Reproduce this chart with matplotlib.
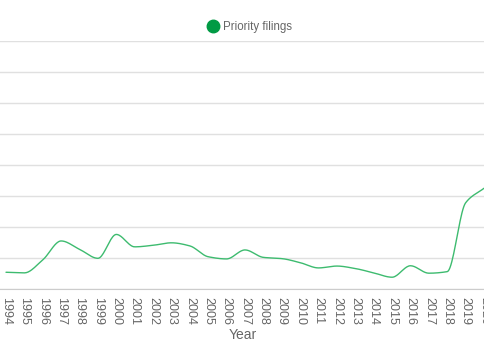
import numpy as np
import matplotlib
matplotlib.use("Agg")
import matplotlib.pyplot as plt
from matplotlib.lines import Line2D

years = list(range(1994, 2021))
filings = [2.7, 2.6, 4.7, 7.75, 6.4, 4.95, 8.8, 6.8, 7.05, 7.45, 6.95, 5.2,
           4.85, 6.3, 5.1, 4.9, 4.25, 3.4, 3.7, 3.3, 2.6, 1.9, 3.75, 2.55,
           2.8, 13.9, 16.25]
series_label = "Priority filings"
x_label = "Year"


def monotone(x, y, n=20):
    x = np.asarray(x, float); y = np.asarray(y, float)
    h = np.diff(x); d = np.diff(y) / h
    m = np.zeros_like(y)
    m[0] = d[0]; m[-1] = d[-1]
    for i in range(1, len(y) - 1):
        if d[i - 1] * d[i] <= 0:
            m[i] = 0
        else:
            m[i] = 3 * (h[i - 1] + h[i]) / ((2 * h[i] + h[i - 1]) / d[i - 1] + (h[i] + 2 * h[i - 1]) / d[i])
    xs, ys = [], []
    for i in range(len(x) - 1):
        t = np.linspace(0, 1, n, endpoint=False)
        h00 = 2 * t**3 - 3 * t**2 + 1; h10 = t**3 - 2 * t**2 + t
        h01 = -2 * t**3 + 3 * t**2; h11 = t**3 - t**2
        xs.append(x[i] + t * h[i])
        ys.append(h00 * y[i] + h10 * h[i] * m[i] + h01 * y[i + 1] + h11 * h[i] * m[i + 1])
    xs.append([x[-1]]); ys.append([y[-1]])
    return np.concatenate(xs), np.concatenate(ys)


plt.rcParams['font.family'] = ['Liberation Sans', 'DejaVu Sans']
fig = plt.figure(figsize=(4.85, 3.6), dpi=100)
ax = fig.add_axes([0, (360 - 289) / 360, 1, (289 - 41) / 360])

sx, sy = monotone(years, filings)
ax.plot(sx, sy, color='#3dbb6f', lw=1.0, solid_capstyle='round')

ax.set_xlim(1994 - 6 / 18.38, 2020 + 1 / 18.38)
ax.set_ylim(0, 40)
ax.set_yticks(np.arange(0, 41, 5))
ax.yaxis.grid(True, color='#e0e0e0', lw=1)
ax.set_axisbelow(True)
ax.tick_params(axis='y', length=0, labelleft=False)
ax.set_xticks(years)
ax.set_xticklabels([str(y) for y in years], rotation=270, fontsize=9, color='#666666')
ax.tick_params(axis='x', length=0, pad=6)
for s in ['top', 'left', 'right']:
    ax.spines[s].set_visible(False)
ax.spines['bottom'].set_color('#cccccc')
ax.set_xlabel(x_label, fontsize=10, color='#666666', labelpad=2)

handle = Line2D([], [], marker='o', ls='none', color='#009a44', markersize=9)
fig.legend([handle], [series_label], loc='center', bbox_to_anchor=(0.513, 1 - 27 / 360),
           frameon=False, fontsize=8.3, labelcolor='#666666', handletextpad=0.3,
           handlelength=1.2)

fig.savefig('out.png', dpi=100)
